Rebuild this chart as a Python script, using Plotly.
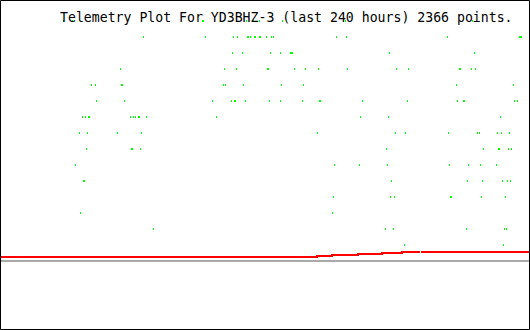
import plotly.graph_objects as go

# Telemetry samples: hour within the 240 h window, per quantised value level
hours_v15 = [28.75, 32.83, 91.70, 92.15, 111.62, 114.34, 114.79, 117.51, 127.92, 156.45, 213.96]
hours_v14 = [64.98, 93.06, 105.74, 107.55, 112.08, 112.53, 113.43, 115.25, 115.70, 117.51, 117.96,
             120.68, 122.94, 123.85, 152.38, 156.91, 202.64, 235.25, 235.70, 236.15]
hours_v13 = [105.28, 109.81, 122.49, 127.02, 131.55, 132.00, 132.45, 176.38, 214.87]
hours_v12 = [54.57, 101.66, 107.09, 121.13, 121.58, 133.36, 138.34, 144.23, 157.36, 179.55, 184.98,
             208.08, 208.53, 213.51, 215.32]
hours_v11 = [41.43, 43.25, 55.02, 55.47, 101.21, 102.11, 110.26, 127.47, 137.43, 206.72, 232.53]
hours_v10 = [43.70, 56.38, 96.23, 104.83, 106.19, 106.64, 111.17, 122.04, 127.02, 136.98, 144.68,
             145.13, 164.15, 184.53, 207.17, 209.89, 210.34, 232.98, 234.34]
hours_v9 = [37.36, 38.72, 40.08, 40.53, 59.09, 60.45, 61.36, 62.72, 63.17, 66.34, 98.04, 163.25,
            175.92, 226.64]
hours_v8 = [36.00, 39.62, 53.21, 64.08, 143.77, 179.09, 183.62, 203.09, 216.23, 217.13, 225.28,
            227.09, 230.72]
hours_v7 = [39.17, 59.55, 60.00, 63.62, 175.02, 218.94, 225.74, 226.19, 230.26, 231.62]
hours_v6 = [34.19, 151.47, 162.79, 175.47, 203.55, 212.15, 217.58, 224.83]
hours_v5 = [37.81, 38.26, 177.28, 211.70, 218.49, 227.55, 229.81, 231.17]
hours_v4 = [151.02, 176.83, 178.64, 204.00, 204.45, 218.04, 228.91]
hours_v3 = [36.45, 150.57]
hours_v2 = [69.51, 174.57, 178.19, 211.25, 228.45, 229.36]
hours_v1 = [183.17, 228.00]

levels = [15, 14, 13, 12, 11, 10, 9, 8, 7, 6, 5, 4, 3, 2, 1]
level_hours = [hours_v15, hours_v14, hours_v13, hours_v12, hours_v11, hours_v10, hours_v9,
               hours_v8, hours_v7, hours_v6, hours_v5, hours_v4, hours_v3, hours_v2, hours_v1]

# Second channel (red step trace)
red_hours = [0, 143.55, 150.34, 162.11, 172.98, 182.04, 190.19, None, 190.64, 240]
red_values = [0.25, 0.3125, 0.375, 0.4375, 0.5, 0.5625, 0.5625, None, 0.5625, 0.5625]

# Baseline
base_hours = [0, 240]
base_values = [0, 0]

title_text = "Telemetry Plot For YD3BHZ-3 (last 240 hours) 2366 points."

dot_x, dot_y = [], []
for lv, hs in zip(levels, level_hours):
    dot_x.extend(hs)
    dot_y.extend([lv] * len(hs))

fig = go.Figure()
fig.add_trace(go.Scatter(x=base_hours, y=base_values, mode="lines",
                         line=dict(color="#a9a9a9", width=2), hoverinfo="skip"))
fig.add_trace(go.Scatter(x=red_hours, y=red_values, mode="lines", line_shape="hv",
                         connectgaps=False,
                         line=dict(color="#ff0000", width=2), hoverinfo="skip"))

fig.add_annotation(text=title_text, xref="paper", yref="paper",
                   x=58 / 530, y=1 - 17.5 / 330, xanchor="left", yanchor="middle",
                   showarrow=False,
                   font=dict(family="DejaVu Sans Mono", size=13.2, color="#000000"))

fig.add_trace(go.Scatter(x=dot_x, y=dot_y, mode="markers",
                         marker=dict(symbol="line-ns", size=1.43, color="#00ff00",
                                     line=dict(color="#00ff00", width=1)),
                         cliponaxis=False, hoverinfo="skip"))

fig.add_shape(type="rect", xref="paper", yref="paper",
              x0=0.5 / 530, x1=529.5 / 530, y0=0.5 / 330, y1=329.5 / 330,
              line=dict(color="#000000", width=1), layer="above")

fig.update_layout(
    width=530, height=330,
    margin=dict(l=0, r=0, t=0, b=0),
    paper_bgcolor="#ffffff", plot_bgcolor="#ffffff",
    showlegend=False,
    xaxis=dict(range=[0, 240], visible=False, fixedrange=True),
    yaxis=dict(range=[-4.3125, 16.3125], visible=False, fixedrange=True),
)

fig.write_html("out.html", config={"displayModeBar": False})
